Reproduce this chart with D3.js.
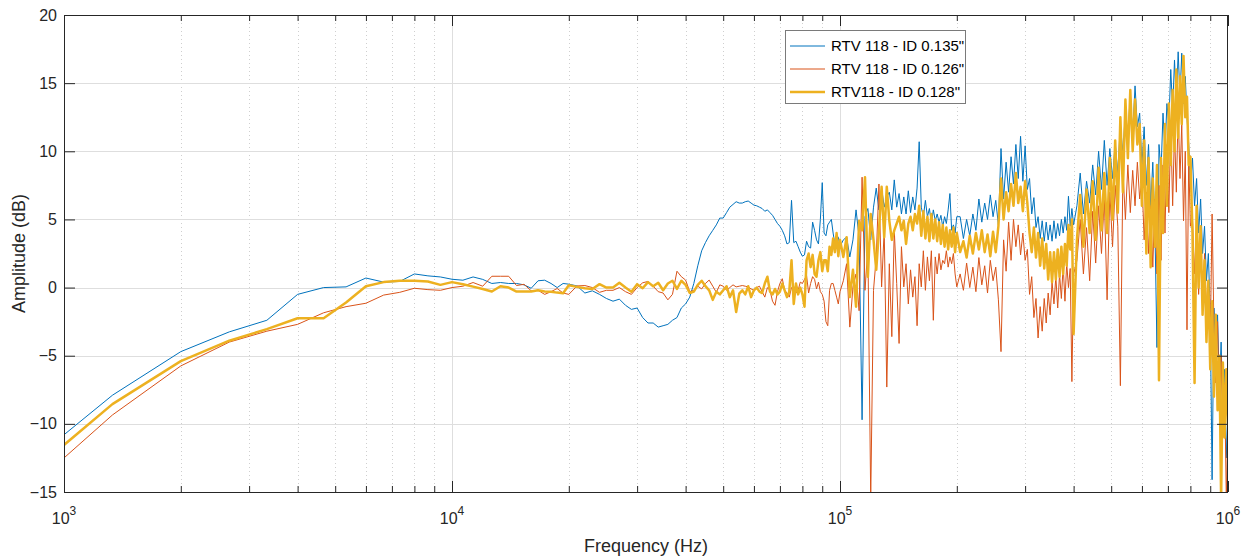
<!DOCTYPE html>
<html><head><meta charset="utf-8">
<script src="https://cdn.jsdelivr.net/npm/d3@7"></script>
<style>
html,body{margin:0;padding:0;background:#fff;}
svg{display:block;font-family:"Liberation Sans",Arial,Helvetica,sans-serif;}
</style></head><body>
<svg id="chart" width="1248" height="559"></svg>
<script>
// Frequencies in kHz (shared by the three measurements)
const freqKHz = [
  1,1.333,2,2.667,3.333,4,4.667,5.333,6,6.667,7.333,8,8.667,9.333,10,10.667,11.333,12,12.667,13.333,14,14.667,15.333,16,16.667,17.333,18,18.667,19.333,20,
  21,22,23,24,25,26,27,28,29,30,31,32,33,34,35,36,37,38,39,40,
  41,42,43,44,45,46,47,48,49,50,51,52,53,54,55,56,57,58,59,60,61,62,63,64,65,66,67,68,69,70,71,72,73,74,75,76,77,78,79,80,81,82,83,84,85,86,87,88,89,90,91,92,93,94,95,96,97,98,99,100,
  102,104,106,108,110,112,114,116,118,120,122,124,126,128,130,132,134,136,138,140,142,144,146,148,150,152,154,156,158,160,162,164,166,168,170,172,174,176,178,180,182,184,186,188,190,192,194,196,198,200,
  204,208,212,216,220,224,228,232,236,240,244,248,252,256,260,264,268,272,276,280,284,288,292,296,300,304,308,312,316,320,324,328,332,336,340,344,348,352,356,360,364,368,372,376,380,384,388,392,396,400,
  408,416,424,432,440,448,456,464,472,480,488,496,504,512,520,528,536,544,552,560,568,576,584,592,600,608,616,624,632,640,648,656,664,672,680,688,696,704,712,720,728,736,744,752,760,768,776,784,792,800,
  810,820,830,840,850,860,870,880,890,900,910,920,930,940,950,960,970,980,990,1000
];

const blueDB = [
  -10.8,-7.9,-4.7,-3.25,-2.4,-0.5,0.0,0.05,0.7,0.4,0.45,1.0,0.86,0.78,0.61,0.54,0.78,0.6,0.3,0.37,0.3,0.3,0.2,-0.05,0.5,0.54,0.3,0.0,0.3,0.25,
  0.12,-0.4,-0.24,-0.5,-0.8,-1.0,-0.85,-1.3,-1.6,-1.5,-2.2,-2.6,-2.6,-2.9,-2.8,-2.7,-2.4,-2.2,-1.5,-1.2,
  -0.7,0.3,1.6,2.7,3.3,3.8,4.2,4.6,5.1,5.1,
  5.5,5.9,6.1,6.3,6.2,6.2,6.3,6.35,6.2,6.05,
  6.0,5.9,5.8,5.6,5.7,5.5,5.3,5.0,4.7,4.5,
  4.2,3.8,3.2,3.3,6.4,3.3,3.4,3.0,2.6,2.3,
  2.4,3.4,3.0,2.9,4.8,4.2,3.5,3.2,5.0,7.7,
  4.0,3.8,4.6,4.8,5.0,4.0,3.2,3.6,3.7,3.0,
  3.5,3.7,2.25,3.5,5.7,3.7,-9.7,5.2,5.8,3.5,
  5.9,7.3,5.7,7.3,5.9,6.65,7.0,5.7,7.9,5.9,
  6.9,5.4,6.65,5.4,7.1,5.5,6.65,5.7,7.3,10.7,
  5.9,5.2,6.4,5.2,5.8,4.7,5.7,4.9,5.4,4.8,
  5.3,4.45,5.2,4.7,5.7,6.9,4.2,4.6,4.0,5.2,
  5.2,3.6,5.0,3.8,5.4,4.2,6.5,4.8,6.2,5.0,
  6.8,5.2,6.4,4.6,10.2,6.5,9.2,7.0,9.6,7.6,
  10.5,8.0,11.1,7.8,10.4,7.2,8.0,5.4,6.6,4.4,
  5.2,3.6,4.9,3.4,4.8,3.5,4.6,3.4,4.9,3.6,
  4.7,3.8,5.0,4.0,5.2,4.2,6.7,4.5,5.8,4.6,
  6.0,8.4,5.4,7.8,6.2,9.0,6.8,10.0,7.2,10.8,
  7.5,10.2,8.0,10.6,8.4,12.0,9.8,13.0,11.0,14.2,
  11.2,14.8,11.8,12.8,9.0,11.8,7.5,10.5,6.0,9.2,
  4.5,-4.4,10.5,8.5,12.8,10.0,13.5,12.0,16.0,13.0,
  16.7,13.5,17.3,14.0,17.2,13.5,15.5,12.5,10.5,7.5,
  9.5,6.0,8.0,4.0,6.5,2.5,4.5,0.5,2.5,-2.0,-14.1,-1.5,-5.0,-2.0,-7.5,-4.0,-9.0,-6.0,-12.5,-9.0
];

const redDB = [
  -12.5,-9.35,-5.75,-4.0,-3.2,-2.7,-1.85,-1.4,-1.15,-0.55,-0.35,-0.05,-0.15,-0.2,0.0,0.1,0.37,0.1,0.83,0.83,0.83,0.15,0.24,-0.24,-0.2,-0.5,-0.3,-0.07,-0.4,-0.5,
  0.12,0.15,0.0,-0.35,-0.2,-0.2,0.0,-0.3,-0.5,0.0,0.35,0.45,0.1,-0.3,-0.4,-0.9,-0.5,1.2,0.8,0.55,
  -0.3,-0.2,0.1,-0.1,0.3,0.55,0.1,-0.35,0.2,0.1,
  -0.2,0.0,0.2,0.05,0.1,0.15,0.1,0.05,-0.1,-0.2,
  0.0,0.1,-0.3,-0.7,0.0,-0.2,-1.0,-1.3,-0.3,0.3,
  0.65,-0.2,-0.4,-0.7,0.0,0.1,-0.4,-0.2,0.4,0.3,
  0.6,0.9,-0.4,0.3,0.8,0.6,-0.1,0.4,-0.3,-0.5,
  -1.0,-2.5,-2.8,-0.2,0.3,0.3,-0.2,-0.7,-1.2,-0.3,
  0.5,1.75,-2.9,0.05,1.0,-1.7,8.1,-0.2,3.0,-15.5,
  -0.2,2.25,7.6,0.05,4.2,-7.3,1.75,-3.6,4.2,0.3,
  -4.1,3.0,0.05,1.75,-1.2,1.3,-0.7,0.8,-2.8,1.75,
  0.05,2.7,-0.2,2.25,0.5,2.7,-2.4,2.25,1.0,2.5,
  1.3,2.0,1.75,2.7,1.5,2.25,1.75,2.5,1.0,0.05,
  1.0,-0.2,1.8,0.0,1.5,-0.3,2.2,0.2,1.6,-0.4,
  2.0,0.5,1.5,-0.9,-4.7,3.5,1.2,4.8,2.0,5.0,
  3.0,4.6,2.4,4.0,2.0,2.8,-0.5,0.8,-2.2,-0.8,
  -3.7,-1.4,-3.2,-0.8,-2.6,-0.4,-2.0,0.4,-1.2,0.8,
  -1.5,1.0,-0.8,1.6,-1.0,1.8,0.0,1.4,-6.9,1.0,
  2.0,5.0,1.0,4.4,0.5,5.6,1.8,6.0,2.5,6.5,
  -0.9,7.0,3.0,7.5,4.5,-7.2,8.6,5.0,9.0,5.5,
  8.6,6.0,9.2,6.5,8.0,3.5,7.0,2.5,6.0,1.5,
  6.5,1.0,7.5,2.0,9.0,4.0,10.5,5.5,12.0,6.0,
  11.5,7.0,13.0,8.0,12.0,4.9,10.0,-3.1,9.5,4.5,
  5.0,1.0,4.5,-0.5,3.0,-1.5,2.5,-2.0,0.5,-4.0,5.4,-3.0,-7.0,-2.5,-9.0,-5.0,-11.0,-7.0,-15.5,-10.0
];

const yellowDB = [
  -11.55,-8.55,-5.4,-3.9,-3.05,-2.25,-2.25,-1.1,0.1,0.4,0.5,0.5,0.45,0.2,0.4,0.25,0.07,-0.1,-0.29,0.1,0.0,-0.29,-0.29,-0.29,-0.2,-0.29,-0.3,-0.37,-0.42,0.17,
  0.05,-0.05,-0.1,0.25,0.0,0.0,0.35,0.0,-0.3,0.25,-0.05,0.4,0.1,0.35,-0.2,0.3,0.5,-0.1,0.5,0.2,
  -0.4,-0.3,0.2,0.5,0.1,-0.2,-0.9,-0.3,-0.5,-0.2,
  0.1,-0.7,-0.2,-1.8,-0.45,-0.2,-0.5,0.1,-0.7,-0.2,
  0.0,-0.3,-0.4,0.3,0.8,-0.3,-0.5,-0.1,-0.5,-0.3,
  0.3,-0.2,-0.7,-0.3,2.0,-1.2,0.3,-0.5,0.0,-0.5,
  -1.4,2.0,2.5,1.5,2.4,1.0,0.8,2.0,2.6,1.2,
  2.0,2.0,1.2,3.0,2.4,3.6,2.6,4.0,2.3,3.5,
  2.25,3.7,-0.7,1.3,-1.4,4.9,4.2,8.1,0.8,5.4,
  3.5,1.3,4.2,7.4,3.7,7.4,4.9,3.5,4.2,4.7,
  5.2,4.2,4.9,3.2,4.7,5.2,4.2,5.4,4.7,6.0,
  3.8,5.6,3.6,5.2,3.4,5.4,3.6,5.0,3.4,4.8,
  3.2,4.6,3.0,4.4,2.8,4.2,3.0,4.4,2.6,4.0,
  2.6,3.4,2.2,3.8,2.5,4.0,2.8,4.2,2.6,3.9,
  2.3,4.1,2.6,4.5,8.0,5.0,7.0,5.6,7.6,6.0,
  8.4,6.2,7.4,5.6,7.8,6.2,4.0,2.6,4.4,2.2,
  4.0,1.6,3.6,1.4,3.2,0.6,2.6,0.4,2.6,0.6,
  2.8,0.8,3.0,1.0,3.2,1.6,4.6,2.8,5.0,-3.4,
  3.5,6.8,3.0,7.2,4.0,7.8,3.5,8.8,4.2,8.4,
  4.0,9.5,5.0,10.8,5.5,12.5,7.0,13.8,9.5,14.5,
  10.0,13.8,10.5,12.0,6.0,10.8,2.5,9.5,1.5,8.0,
  3.0,9.0,-6.8,9.5,4.0,12.0,6.0,13.5,9.0,14.5,
  10.0,16.0,11.0,15.5,12.0,17.0,12.5,14.0,9.0,9.6,
  4.0,-7.0,6.0,0.0,4.5,-2.0,2.0,-4.0,0.5,-6.0,-1.0,-8.0,-2.0,-9.0,-5.0,-15.5,-5.5,-11.0,-6.0,-10.0
];

const seriesNames = ['RTV 118 - ID 0.135"', 'RTV 118 - ID 0.126"', 'RTV118 - ID 0.128"'];
const seriesColors = ['#0072BD', '#D95319', '#EDB120'];
const seriesWidths = [1, 1, 2.5];
const yTickValues = [-15, -10, -5, 0, 5, 10, 15, 20];
const xDecadeValues = [1e3, 1e4, 1e5, 1e6];
const xDecadeExponents = ['3', '4', '5', '6'];
const xAxisTitle = 'Frequency (Hz)';
const yAxisTitle = 'Amplitude (dB)';

const L = 64, R = 1228, T = 15, B = 492;
const x = d3.scaleLog().domain([1e3, 1e6]).range([L, R]);
const y = d3.scaleLinear().domain([-15, 20]).range([B, T]);
const svg = d3.select('#chart');
const axisColor = '#262626';

svg.append('defs').append('clipPath').attr('id', 'plotclip')
  .append('rect').attr('x', L).attr('y', T).attr('width', R - L).attr('height', B - T);

// grid
const allLogTicks = x.ticks();
const minorTicks = allLogTicks.filter(v => !xDecadeValues.includes(v));
const grid = svg.append('g');
grid.selectAll('line.mx').data(minorTicks).join('line')
  .attr('x1', d => Math.round(x(d)) + 0.5).attr('x2', d => Math.round(x(d)) + 0.5)
  .attr('y1', T).attr('y2', B)
  .attr('stroke', '#cfcfcf').attr('stroke-width', 1).attr('stroke-dasharray', '1,3');
grid.selectAll('line.Mx').data(xDecadeValues.slice(1, -1)).join('line')
  .attr('x1', d => Math.round(x(d)) + 0.5).attr('x2', d => Math.round(x(d)) + 0.5)
  .attr('y1', T).attr('y2', B).attr('stroke', '#dedede').attr('stroke-width', 1);
grid.selectAll('line.My').data(yTickValues.slice(1, -1)).join('line')
  .attr('x1', L).attr('x2', R)
  .attr('y1', d => Math.round(y(d)) + 0.5).attr('y2', d => Math.round(y(d)) + 0.5)
  .attr('stroke', '#dedede').attr('stroke-width', 1);

// series
const seriesValues = [blueDB, redDB, yellowDB];
const lineGen = d3.line().x(d => x(d[0] * 1000)).y(d => y(d[1]));
const plot = svg.append('g').attr('clip-path', 'url(#plotclip)');
seriesValues.forEach((vals, i) => {
  const n = Math.min(vals.length, freqKHz.length);
  const pts = d3.range(n).map(k => [freqKHz[k], vals[k]]);
  plot.append('path').datum(pts)
    .attr('d', lineGen).attr('fill', 'none')
    .attr('stroke', seriesColors[i]).attr('stroke-width', seriesWidths[i])
    .attr('stroke-linejoin', 'round');
});

// axes (ticks inside)
function styleAxis(g) {
  g.select('.domain').remove();
  g.selectAll('line').attr('stroke', axisColor);
  g.selectAll('text').remove();
}
svg.append('g').attr('transform', `translate(0,${B})`)
  .call(d3.axisBottom(x).tickValues(xDecadeValues).tickSizeInner(-11).tickSizeOuter(0)).call(styleAxis);
svg.append('g').attr('transform', `translate(0,${B})`)
  .call(d3.axisBottom(x).tickValues(minorTicks).tickSizeInner(-6).tickSizeOuter(0)).call(styleAxis);
svg.append('g').attr('transform', `translate(0,${T})`)
  .call(d3.axisTop(x).tickValues(xDecadeValues).tickSizeInner(-11).tickSizeOuter(0)).call(styleAxis);
svg.append('g').attr('transform', `translate(0,${T})`)
  .call(d3.axisTop(x).tickValues(minorTicks).tickSizeInner(-6).tickSizeOuter(0)).call(styleAxis);
svg.append('g').attr('transform', `translate(${R},0)`)
  .call(d3.axisRight(y).tickValues(yTickValues).tickSizeInner(-11).tickSizeOuter(0)).call(styleAxis);

const yAxisG = svg.append('g').attr('transform', `translate(${L},0)`)
  .call(d3.axisLeft(y).tickValues(yTickValues).tickSizeInner(-11).tickSizeOuter(0).tickPadding(7));
yAxisG.select('.domain').remove();
yAxisG.selectAll('line').attr('stroke', axisColor);
yAxisG.selectAll('text').attr('fill', axisColor).attr('font-size', 16)
  .attr('font-family', '"Liberation Sans",Arial,sans-serif');

// box
svg.append('rect').attr('x', L + 0.5).attr('y', T + 0.5).attr('width', R - L - 1).attr('height', B - T)
  .attr('fill', 'none').attr('stroke', axisColor).attr('stroke-width', 1);

// x tick labels 10^n
const xl = svg.append('g').attr('fill', axisColor).attr('font-size', 16);
xDecadeValues.forEach((v, i) => {
  const t = xl.append('text').attr('x', x(v)).attr('y', 524).attr('text-anchor', 'middle');
  t.append('tspan').text('10');
  t.append('tspan').attr('dy', -9).attr('font-size', 12).text(xDecadeExponents[i]);
});

// axis titles
svg.append('text').attr('x', (L + R) / 2).attr('y', 552).attr('text-anchor', 'middle')
  .attr('font-size', 18).attr('fill', axisColor).text(xAxisTitle);
svg.append('text').attr('transform', `translate(25,${(T + B) / 2}) rotate(-90)`).attr('text-anchor', 'middle')
  .attr('font-size', 18).attr('fill', axisColor).text(yAxisTitle);

// legend
const lg = svg.append('g');
lg.append('rect').attr('x', 785.5).attr('y', 30.5).attr('width', 180).attr('height', 73)
  .attr('fill', '#fff').attr('stroke', '#7a7a7a').attr('stroke-width', 1);
const rowY = [46, 69, 92];
seriesNames.forEach((name, i) => {
  lg.append('line').attr('x1', 790).attr('x2', 825).attr('y1', rowY[i]).attr('y2', rowY[i])
    .attr('stroke', seriesColors[i]).attr('stroke-width', seriesWidths[i]);
  lg.append('text').attr('x', 831).attr('y', rowY[i]).attr('dy', '0.35em')
    .attr('font-size', 15).attr('fill', '#000').text(name);
});
</script>
</body></html>
